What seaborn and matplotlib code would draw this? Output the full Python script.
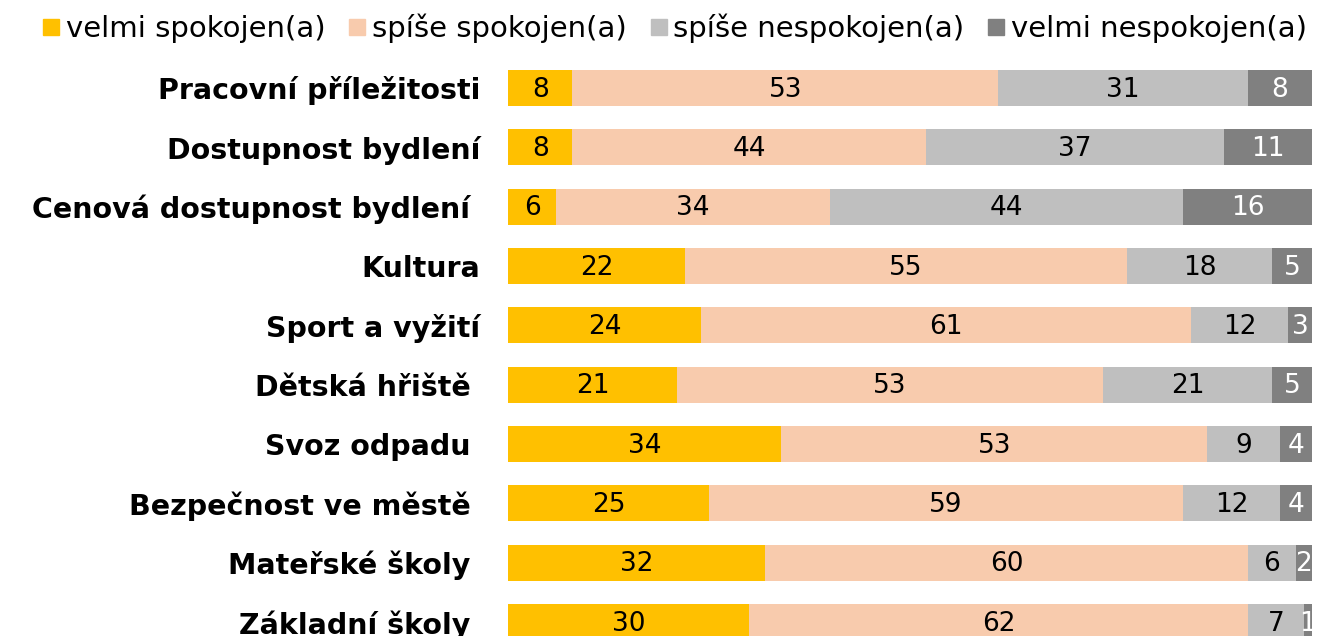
import pandas as pd
import numpy as np
import matplotlib
matplotlib.use("Agg")
import matplotlib.pyplot as plt
import seaborn as sns
from matplotlib.lines import Line2D

categories = ["Pracovní příležitosti", "Dostupnost bydlení", "Cenová dostupnost bydlení ",
              "Kultura", "Sport a vyžití", "Dětská hřiště ", "Svoz odpadu ",
              "Bezpečnost ve městě ", "Mateřské školy ", "Základní školy "]
series = ["velmi spokojen(a)", "spíše spokojen(a)", "spíše nespokojen(a)", "velmi nespokojen(a)"]
velmi_spok = [8, 8, 6, 22, 24, 21, 34, 25, 32, 30]
spise_spok = [53, 44, 34, 55, 61, 53, 53, 59, 60, 62]
spise_nespok = [31, 37, 44, 18, 12, 21, 9, 12, 6, 7]
velmi_nespok = [8, 11, 16, 5, 3, 5, 4, 4, 2, 1]
colors = ["#FFC000", "#F8CBAD", "#BFBFBF", "#808080"]
text_colors = ["black", "black", "black", "white"]

df = pd.DataFrame({"kategorie": categories, series[0]: velmi_spok, series[1]: spise_spok,
                   series[2]: spise_nespok, series[3]: velmi_nespok})
cum = df[series].cumsum(axis=1)

sns.set_style("white")
plt.rcParams['font.family'] = ['DejaVu Sans']
plt.rcParams['text.color'] = 'black'
plt.rcParams['ytick.color'] = 'black'

fig = plt.figure(figsize=(13.2, 6.36), dpi=100)
ax = fig.add_axes([508 / 1320, 0, (1312 - 508) / 1320, 576 / 636])

# stacked bars: draw the cumulative totals from the largest down
for i in range(len(series) - 1, -1, -1):
    sns.barplot(x=cum[series[i]], y=df["kategorie"], color=colors[i], orient="h",
                width=0.61, ax=ax, linewidth=0, saturation=1)

for i, s in enumerate(series):
    starts = cum[s] - df[s]
    for j in range(len(df)):
        v = df[s][j]
        ax.text(starts[j] + v / 2, j + 0.03, str(v), ha="center", va="center",
                fontsize=19, color=text_colors[i])

ax.set_xlim(0, 100)
ax.set_ylim(9 + 14 / 59.4, -(88 - 60) / 59.4)
ax.set_xlabel("")
ax.set_ylabel("")
ax.set_xticks([])
ax.tick_params(axis="y", length=0, pad=20, colors="black")
for lab in ax.get_yticklabels():
    lab.set_fontweight("bold")
    lab.set_fontsize(20.5)
sns.despine(ax=ax, left=True, bottom=True)

handles = [Line2D([], [], marker="s", linestyle="", markersize=12, color=c) for c in colors]
fig.legend(handles, series, loc="upper center", bbox_to_anchor=(0.51, 1.02), ncol=4,
           frameon=False, fontsize=21, handletextpad=0.1, columnspacing=0.7,
           handlelength=0.8)

plt.savefig("out.png", dpi=100)
